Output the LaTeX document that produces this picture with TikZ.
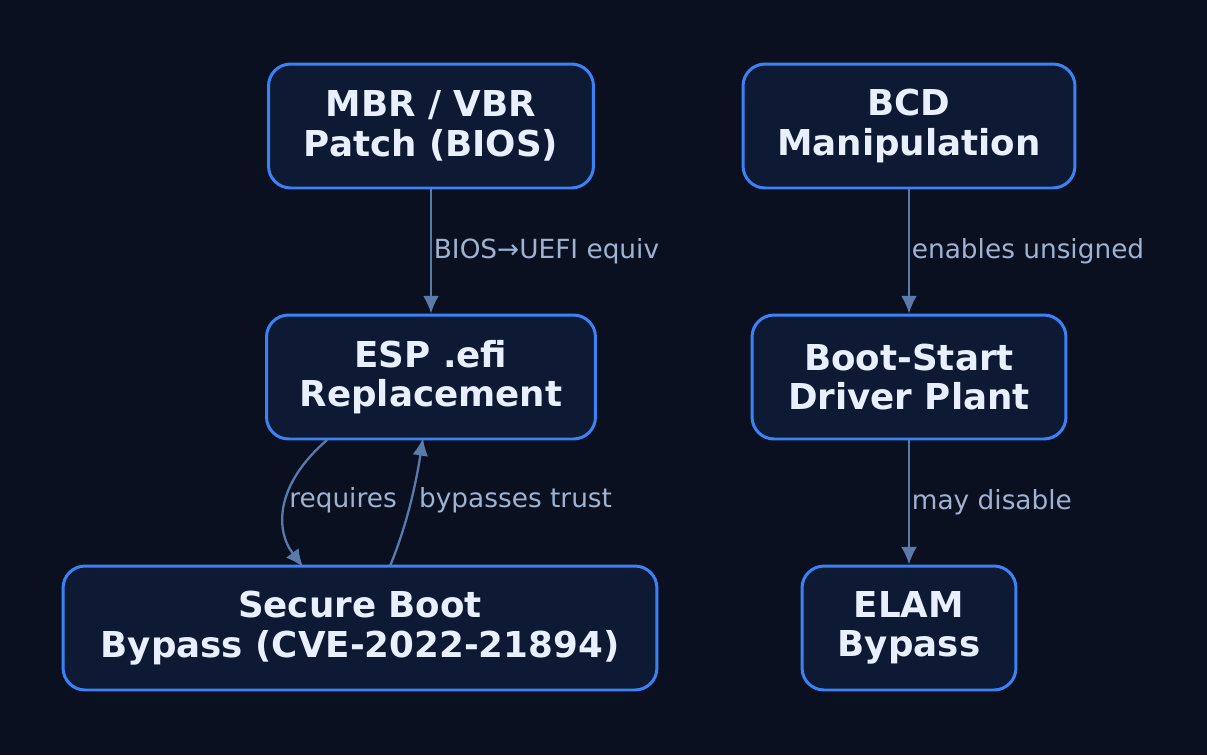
\documentclass[tikz,border=0pt]{standalone}
\usepackage{fontspec}
\setmainfont{DejaVu Sans}
\usetikzlibrary{arrows.meta, positioning}
\definecolor{bgcol}{HTML}{0A1020}
\definecolor{boxfill}{HTML}{0E1A33}
\definecolor{boxline}{HTML}{3B82F6}
\definecolor{boxtext}{HTML}{E8F0FF}
\definecolor{edgecol}{HTML}{5A7AAA}
\definecolor{labcol}{HTML}{9FB3D1}
\tikzset{
  stage/.style={draw=boxline, line width=1.7pt, fill=boxfill, rounded corners=0.44cm,
    text=boxtext, font=\fontsize{20.3}{22.5}\selectfont\bfseries, align=center,
    minimum height=2.48cm, inner sep=0pt},
  link/.style={draw=edgecol, line width=1.3pt, -{Latex[length=10pt,width=9pt]}},
  lab/.style={text=labcol, font=\fontsize{15}{17}\selectfont, inner sep=1pt}
}
\begin{document}
\begin{tikzpicture}[x=0.02cm, y=-0.02cm]
  \fill[bgcol] (0,0) rectangle (1207,755);
  \useasboundingbox (0,0) rectangle (1207,755);

  \node[stage, minimum width=6.5cm] (mbr) at (431,126) {MBR / VBR\\Patch (BIOS)};
  \node[stage, minimum width=6.64cm] (bcd) at (909,126) {BCD\\Manipulation};
  \node[stage, minimum width=6.58cm] (esp) at (431,377) {ESP .efi\\Replacement};
  \node[stage, minimum width=6.28cm] (drv) at (909,377) {Boot-Start\\Driver Plant};
  \node[stage, minimum width=11.88cm] (sb) at (360,628) {Secure Boot\\Bypass (CVE-2022-21894)};
  \node[stage, minimum width=4.28cm] (elam) at (909,628) {ELAM\\Bypass};

  \coordinate (espout) at (327,440);
  \coordinate (reqend) at (303,567);
  \coordinate (sbout) at (390,566);
  \coordinate (bypend) at (423,438);

  \draw[link] (mbr) -- node[lab, right=0pt] {BIOS→UEFI equiv} (esp);
  \draw[link] (bcd) -- node[lab, right=0pt] {enables unsigned} (drv);
  \draw[link] (drv) -- node[lab, right=0pt] {may disable} (elam);
  \draw[link] (espout) .. controls (275,485) and (275,530) .. (reqend);
  \node[lab] (req) at (343,500) {requires};
  \draw[link] (sbout) .. controls (405,530) and (415,490) .. (bypend);
  \node[lab, anchor=west] (byp) at (417,500) {bypasses trust};
\end{tikzpicture}
\end{document}
